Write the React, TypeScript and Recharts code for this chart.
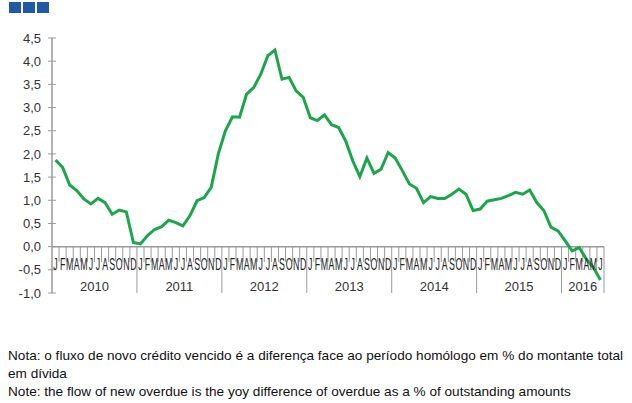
import React from "react";
import { LineChart, Line, XAxis, YAxis, ReferenceLine, ReferenceDot } from "recharts";

const years = ["2010", "2011", "2012", "2013", "2014", "2015", "2016"];
const monthsInYear = [12, 12, 12, 12, 12, 12, 6];
const monthLetters = ["J", "F", "M", "A", "M", "J", "J", "A", "S", "O", "N", "D"];
const yTicks = [-1, -0.5, 0, 0.5, 1, 1.5, 2, 2.5, 3, 3.5, 4, 4.5];

// monthly flow of new overdue credit, Jan 2010 - Jun 2016
const overdueFlow = [
  1.87, 1.71, 1.33, 1.21, 1.03, 0.92, 1.04, 0.95, 0.7, 0.79, 0.75, 0.09,
  0.06, 0.24, 0.37, 0.43, 0.57, 0.52, 0.45, 0.67, 0.99, 1.06, 1.28, 2.0,
  2.5, 2.8, 2.79, 3.29, 3.43, 3.72, 4.12, 4.24, 3.61, 3.65, 3.36, 3.22,
  2.78, 2.72, 2.84, 2.63, 2.57, 2.28, 1.85, 1.51, 1.91, 1.58, 1.67, 2.03,
  1.91, 1.64, 1.35, 1.26, 0.95, 1.08, 1.04, 1.04, 1.13, 1.24, 1.13, 0.78,
  0.81, 0.98, 1.01, 1.04, 1.1, 1.17, 1.13, 1.22, 0.95, 0.78, 0.42, 0.34,
  0.13, -0.09, -0.02, -0.27, -0.45, -0.72,
];

const noteLines = [
  "Nota: o fluxo de novo crédito vencido é a diferença face ao período homólogo em % do montante total",
  "em dívida",
  "Note: the flow of new overdue is the yoy difference of overdue as a % of outstanding amounts",
];

type Row = { x: number; month: string; year: string; value: number };

const data: Row[] = [];
const yearStarts: number[] = [];
{
  let n = 0;
  years.forEach((yr, yi) => {
    yearStarts.push(n);
    for (let m = 0; m < monthsInYear[yi]; m++) {
      data.push({ x: n + 0.5, month: monthLetters[m], year: yr, value: overdueFlow[n] });
      n++;
    }
  });
  yearStarts.push(n);
}
const total = data.length;

const axisGray = "#9a9a9a";
const font = "'Liberation Sans', Arial, sans-serif";

// narrow, tall month letters squeezed into each month band
const MonthLabel = (props: any) => {
  const { cx, cy, text } = props;
  return (
    <text
      transform={`translate(${cx},${cy}) scale(0.55,1)`}
      textAnchor="middle"
      fontSize={16}
      fill="#222"
      fontFamily={font}
    >
      {text}
    </text>
  );
};

const YearLabel = (props: any) => {
  const { cx, cy, text } = props;
  return (
    <text x={cx} y={cy} textAnchor="middle" fontSize={13} fill="#333" fontFamily={font}>
      {text}
    </text>
  );
};

export default function App() {
  return (
    <div style={{ position: "absolute", left: 0, top: 0, width: 632, height: 403, background: "#fff" }}>
      <div style={{ position: "absolute", left: 9, top: 2, display: "flex", gap: 2 }}>
        {[0, 1, 2].map((i) => (
          <div key={i} style={{ width: 12, height: 11, background: "#1e5aa6" }} />
        ))}
      </div>

      <LineChart
        width={632}
        height={300}
        data={data}
        margin={{ top: 38, right: 28, bottom: 7, left: 0 }}
      >
        <XAxis dataKey="x" type="number" domain={[0, total]} hide />
        <YAxis
          width={52}
          domain={[-1, 4.5]}
          ticks={yTicks}
          interval={0}
          tickFormatter={(v: number) => v.toFixed(1).replace(".", ",")}
          axisLine={{ stroke: axisGray, strokeWidth: 1.5 }}
          tickLine={{ stroke: axisGray }}
          tickSize={4}
          tickMargin={7}
          tick={{ fill: "#333", fontSize: 13, fontFamily: font }}
        />
        {yTicks.map((t) => (
          <ReferenceLine
            key={"yt" + t}
            segment={[{ x: 0, y: t }, { x: 0.55, y: t }]}
            stroke={axisGray}
          />
        ))}
        <ReferenceLine y={0} stroke={axisGray} strokeWidth={1.5} />
        {data.map((_, i) =>
          yearStarts.includes(i) ? null : (
            <ReferenceLine
              key={"mt" + i}
              segment={[{ x: i, y: 0 }, { x: i, y: -0.33 }]}
              stroke={axisGray}
            />
          )
        )}
        {yearStarts.slice(1).map((s) => (
          <ReferenceLine
            key={"ys" + s}
            segment={[{ x: s, y: 0 }, { x: s, y: -1 }]}
            stroke={axisGray}
          />
        ))}
        {data.map((d, i) => (
          <ReferenceDot
            key={"ml" + i}
            x={d.x}
            y={-0.5}
            r={0}
            shape={(p: any) => <MonthLabel {...p} text={d.month} />}
          />
        ))}
        {years.map((yr, yi) => (
          <ReferenceDot
            key={"yl" + yr}
            x={yearStarts[yi] + monthsInYear[yi] / 2}
            y={-0.96}
            r={0}
            shape={(p: any) => <YearLabel {...p} text={yr} />}
          />
        ))}
        <Line
          type="linear"
          dataKey="value"
          stroke="#1ba64b"
          strokeWidth={3}
          dot={false}
          isAnimationActive={false}
        />
      </LineChart>

      <div
        style={{
          position: "absolute",
          left: 8,
          top: 347,
          fontFamily: font,
          fontSize: 13.6,
          lineHeight: "18px",
          color: "#111",
          whiteSpace: "nowrap",
        }}
      >
        {noteLines.map((l, i) => (
          <div key={i}>{l}</div>
        ))}
      </div>
    </div>
  );
}
